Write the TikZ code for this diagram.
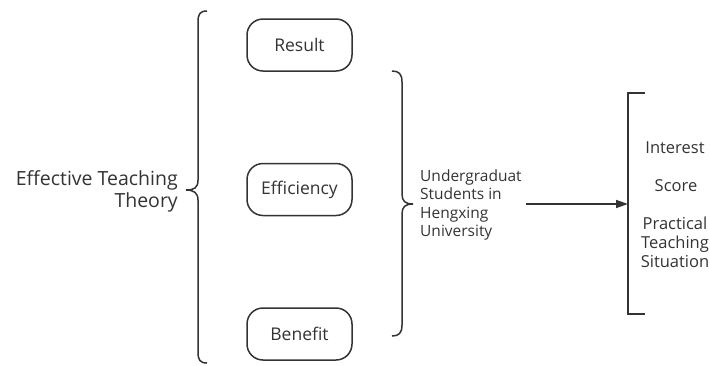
\documentclass[tikz,border=0pt]{standalone}
\usepackage{fontspec}
\setmainfont{Open Sans}
\usetikzlibrary{arrows.meta}
\definecolor{ink}{HTML}{333333}
\begin{document}
\begin{tikzpicture}[x=1pt,y=-1pt,
  line/.style={draw=ink,line width=1.5pt},
  pill/.style={draw=ink,line width=1.5pt,rounded corners=16pt,minimum width=105pt,minimum height=52pt,inner sep=0pt,text=ink,font=\fontsize{17.5}{20}\selectfont},
  lbl/.style={text=ink,inner sep=0pt},
]
\useasboundingbox (0,0) rectangle (710,365);

% main concept and its brace
\node[lbl,anchor=east,align=right,font=\fontsize{19.5}{22}\selectfont] (theory) at (178,191) {Effective Teaching\\Theory};
\path[line] (207,11) .. controls (200,11) and (198,14) .. (198,22) -- (198,180)
  .. controls (198,188) and (194,190) .. (186,190)
  .. controls (194,190) and (198,193) .. (198,200) -- (198,352)
  .. controls (198,360) and (200,363) .. (207,363);

% the three dimensions
\node[pill] (result) at (299.5,45) {Result};
\node[pill] (eff) at (299.5,189.5) {Efficiency};
\node[pill] (benefit) at (299.5,334) {Benefit};

% brace grouping the dimensions
\path[line] (392,71) .. controls (399,71) and (402,74) .. (402,82) -- (402,194)
  .. controls (402,201) and (405,204) .. (413,204)
  .. controls (405,204) and (402,207) .. (402,214) -- (402,325)
  .. controls (402,333) and (399,336) .. (392,336);

\node[lbl,anchor=west,align=left,font=\fontsize{15.5}{18.5}\selectfont] (stu) at (420,205) {Undergraduat\\Students in\\Hengxing\\University};

% bracket of outcomes
\coordinate (brk) at (628,204);
\path[line] (645,93) -- (628,93) -- (628,314) -- (645,314);
\draw[line,-{Triangle[length=12pt,width=8pt]}] (stu.east |- brk) ++(4,0) coordinate (arrstart) (arrstart) -- (brk);

\node[lbl,font=\fontsize{16.5}{19}\selectfont] (interest) at (675,148) {Interest};
\node[lbl,font=\fontsize{16.5}{19}\selectfont] (score) at (676,186) {Score};
\node[lbl,align=center,font=\fontsize{16.5}{19}\selectfont] (practical) at (675,242) {Practical\\Teaching\\Situation};
\end{tikzpicture}
\end{document}
